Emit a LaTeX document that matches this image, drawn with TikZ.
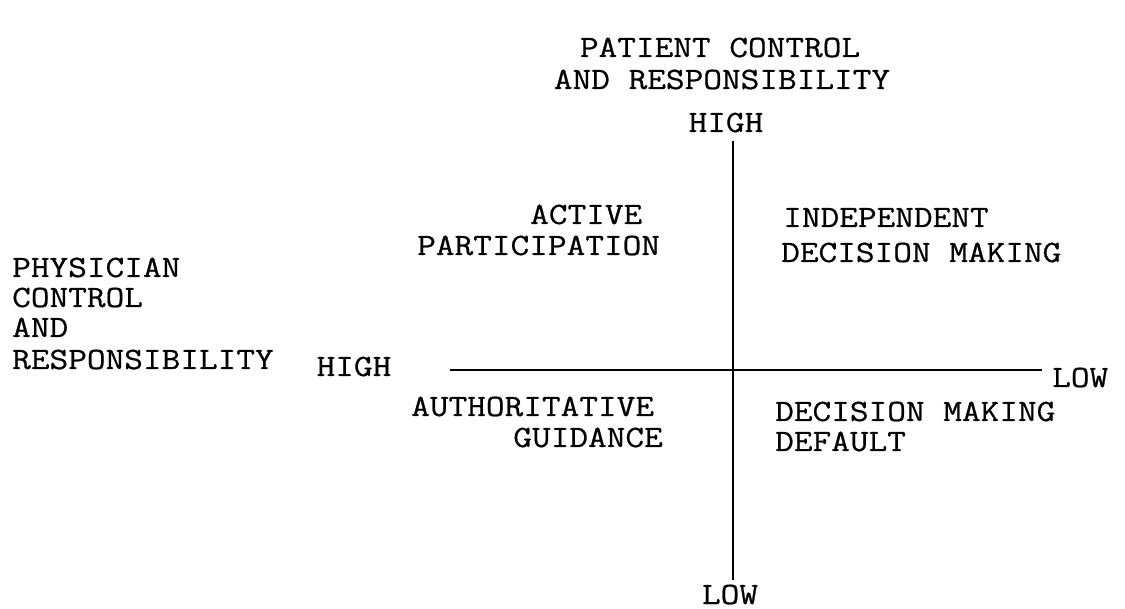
\documentclass[tikz,border=0pt]{standalone}
\usepackage{fontspec}
% wide slab-serif typewriter face
\newfontfamily\typew[FakeBold=0.7, FakeStretch=1.17]{Latin Modern Mono}
\begin{document}
\begin{tikzpicture}[x=1pt,y=-1pt,
  lbl/.style={font=\typew\fontsize{31}{31}\selectfont, inner sep=0pt, anchor=base west},
  ctr/.style={lbl, anchor=base},
  axis/.style={line width=2.4pt}]
\useasboundingbox (0,0) rectangle (1125,609);

% axis titles
\node[ctr] (ptitle1) at (720,57) {PATIENT CONTROL};
\node[ctr] (ptitle2) at (722,89) {AND RESPONSIBILITY};
\node[lbl] (dtitle1) at (12,277) {PHYSICIAN};
\node[lbl] (dtitle2) at (12,307) {CONTROL};
\node[lbl] (dtitle3) at (12,337) {AND};
\node[lbl] (dtitle4) at (12,369) {RESPONSIBILITY};

% axis end labels
\node[ctr] (vhigh) at (726,132) {HIGH};
\node[ctr] (vlow) at (730,604) {LOW};
\node[ctr] (hhigh) at (354,376) {HIGH};
\node[lbl] (hlow) at (1052,387) {LOW};

% axes
\coordinate (vtop) at (733,141);
\coordinate (vbot) at (733,580);
\coordinate (hleft) at (450,370);
\coordinate (hright) at (1042,370);
\draw[axis] (vtop) -- (vbot);
\draw[axis] (hleft) -- (hright);

% quadrant labels
\node[lbl] (q1a) at (530,224) {ACTIVE};
\node[lbl] (q1b) at (417,255) {PARTICIPATION};
\node[lbl] (q2a) at (783,227) {INDEPENDENT};
\node[lbl] (q2b) at (781,262) {DECISION MAKING};
\node[lbl] (q3a) at (411,416) {AUTHORITATIVE};
\node[lbl, anchor=base east] (q3b) at (663,447) {GUIDANCE};
\node[lbl] (q4a) at (775,421) {DECISION MAKING};
\node[lbl] (q4b) at (775,451) {DEFAULT};
\end{tikzpicture}
\end{document}
